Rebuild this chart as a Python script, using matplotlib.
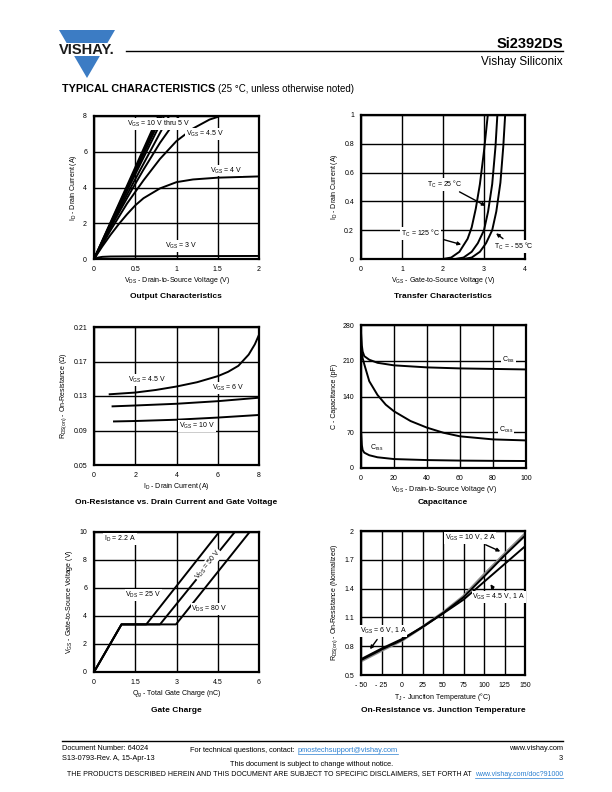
import matplotlib
matplotlib.use("Agg")
import matplotlib.pyplot as plt
from matplotlib.patches import Polygon, Rectangle

plt.rcParams['font.family'] = ['Liberation Sans', 'DejaVu Sans']
plt.rcParams['mathtext.fontset'] = 'custom'
plt.rcParams['mathtext.rm'] = 'Liberation Sans'
plt.rcParams['mathtext.it'] = 'Liberation Sans'

# ---------------- DATA ----------------
# Output characteristics (VDS in V, ID in A)
out_vds_10v = [0, 0.4, 0.78]
out_id_10v = [0, 4.1, 8.0]
out_vds_8v = [0, 0.4, 0.80]
out_id_8v = [0, 4.0, 8.0]
out_vds_7v = [0, 0.4, 0.82]
out_id_7v = [0, 3.9, 8.0]
out_vds_6v = [0, 0.4, 0.85]
out_id_6v = [0, 3.8, 8.0]
out_vds_5_5v = [0, 0.4, 0.91]
out_id_5_5v = [0, 3.6, 8.0]
out_vds_5v = [0, 0.2, 0.4, 0.6, 0.8, 1.03]
out_id_5v = [0, 1.75, 3.4, 5.0, 6.5, 8.0]
out_vds_4_5v = [0, 0.2, 0.4, 0.6, 0.8, 1.0, 1.2, 1.4, 1.5]
out_id_4_5v = [0, 1.6, 3.1, 4.4, 5.6, 6.6, 7.3, 7.8, 7.95]
out_vds_4v = [0, 0.1, 0.2, 0.3, 0.4, 0.5, 0.6, 0.8, 1.0, 1.2, 1.5, 2.0]
out_id_4v = [0, 0.7, 1.35, 1.95, 2.5, 3.0, 3.4, 3.95, 4.3, 4.45, 4.55, 4.62]
out_vds_3v = [0, 0.05, 0.1, 0.2, 0.5, 1.0, 2.0]
out_id_3v = [0, 0.08, 0.12, 0.14, 0.15, 0.16, 0.17]

# Transfer characteristics (VGS in V, ID in A)
tr_vgs_125 = [2.0, 2.2, 2.4, 2.6, 2.7, 2.8, 2.9, 3.0, 3.1]
tr_id_125 = [0, 0.01, 0.05, 0.14, 0.22, 0.35, 0.52, 0.75, 1.02]
tr_vgs_25 = [2.3, 2.5, 2.7, 2.85, 3.0, 3.1, 3.2, 3.28, 3.33]
tr_id_25 = [0, 0.01, 0.05, 0.11, 0.2, 0.33, 0.52, 0.78, 1.02]
tr_vgs_m55 = [2.5, 2.7, 2.9, 3.05, 3.2, 3.3, 3.4, 3.47, 3.52]
tr_id_m55 = [0, 0.01, 0.05, 0.11, 0.2, 0.33, 0.53, 0.78, 1.02]

# On-resistance vs drain current (ID in A, RDS(on) in ohm)
ron_id_4_5v = [0.76, 2, 3, 4, 5, 6, 6.5, 7, 7.5, 7.8, 8]
ron_r_4_5v = [0.132, 0.134, 0.137, 0.141, 0.146, 0.153, 0.158, 0.165, 0.178, 0.19, 0.201]
ron_id_6v = [0.9, 2, 4, 6, 8]
ron_r_6v = [0.118, 0.119, 0.121, 0.124, 0.128]
ron_id_10v = [0.97, 2, 4, 6, 8]
ron_r_10v = [0.1005, 0.101, 0.1025, 0.105, 0.108]

# Capacitance (VDS in V, C in pF)
cap_v_iss = [0, 0.5, 1, 2, 5, 10, 20, 40, 60, 80, 100]
cap_ciss = [265, 240, 228, 219, 212, 206, 201, 197, 195, 194, 193]
cap_v_oss = [0.5, 1, 2, 5, 10, 15, 20, 30, 40, 50, 60, 80, 100]
cap_coss = [225, 215, 203, 170, 143, 124, 111, 92, 79, 69, 62, 56, 54]
cap_v_rss = [0, 0.5, 1, 2, 5, 10, 20, 40, 60, 80, 100]
cap_crss = [72, 45, 35, 30, 25, 21, 17.5, 15.5, 14.5, 14, 13.7]

# Gate charge (Qg in nC, VGS in V)
gc_qg_25v = [0, 1.0, 1.9, 4.55]
gc_vgs_25v = [0, 3.4, 3.4, 10]
gc_qg_50v = [0, 1.0, 2.4, 5.12]
gc_vgs_50v = [0, 3.4, 3.4, 10]
gc_qg_80v = [0, 1.0, 2.98, 5.66]
gc_vgs_80v = [0, 3.4, 3.4, 10]

# On-resistance vs junction temperature (normalized)
tj_temp = [-50, -25, 0, 25, 50, 75, 100, 125, 150]
tj_r_10v = [0.655, 0.765, 0.865, 1.0, 1.145, 1.31, 1.525, 1.745, 1.95]
tj_r_6v = [0.645, 0.755, 0.86, 1.0, 1.15, 1.32, 1.545, 1.76, 1.97]
tj_r_4_5v = [0.665, 0.775, 0.875, 1.0, 1.14, 1.285, 1.47, 1.655, 1.84]

# tick labels
out_xticks = [0, 0.5, 1, 1.5, 2]
out_xticklabels = ["0", "0.5", "1", "1.5", "2"]
out_yticks = [0, 2, 4, 6, 8]
tr_xticks = [0, 1, 2, 3, 4]
tr_yticks = [0, 0.2, 0.4, 0.6, 0.8, 1.0]
tr_yticklabels = ["0", "0.2", "0.4", "0.6", "0.8", "1"]
ron_xticks = [0, 2, 4, 6, 8]
ron_yticks = [0.05, 0.09, 0.13, 0.17, 0.21]
ron_yticklabels = ["0.05", "0.09", "0.13", "0.17", "0.21"]
cap_xticks = [0, 20, 40, 60, 80, 100]
cap_yticks = [0, 70, 140, 210, 280]
gc_xticks = [0, 1.5, 3, 4.5, 6]
gc_xticklabels = ["0", "1.5", "3", "4.5", "6"]
gc_yticks = [0, 2, 4, 6, 8, 10]
tj_xticks = [-50, -25, 0, 25, 50, 75, 100, 125, 150]
tj_xticklabels = ["- 50", "- 25", "0", "25", "50", "75", "100", "125", "150"]
tj_yticks = [0.5, 0.8, 1.1, 1.4, 1.7, 2.0]
tj_yticklabels = ["0.5", "0.8", "1.1", "1.4", "1.7", "2"]

# ---------------- FIGURE ----------------
W, H = 612, 792
fig = plt.figure(figsize=(W / 100, H / 100), dpi=100)
rend = fig.canvas.get_renderer()

def px(x, y):
    return x / W, 1 - y / H

def make_ax(l, t, r, b):
    ax = fig.add_axes([l / W, 1 - b / H, (r - l) / W, (b - t) / H])
    ax.grid(True, color='black', lw=1.0)
    ax.set_axisbelow(True)
    for s in ax.spines.values():
        s.set_linewidth(1.6)
    ax.tick_params(length=0, labelsize=5, pad=5)
    return ax

TXT = dict(fontsize=5)
BOX = dict(facecolor='white', edgecolor='none', pad=0.6)
LW = 1.4
XLP = 1.5
YLP = 3

def fig_title(x, y, s):
    fig.text(*px(x, y), s, ha='center', va='center', fontsize=6, fontweight='bold')

# Chart 1: Output characteristics
ax1 = make_ax(94, 116, 259, 259)
for xs, ys in [(out_vds_10v, out_id_10v), (out_vds_8v, out_id_8v), (out_vds_7v, out_id_7v),
               (out_vds_6v, out_id_6v), (out_vds_5_5v, out_id_5_5v), (out_vds_5v, out_id_5v),
               (out_vds_4_5v, out_id_4_5v), (out_vds_4v, out_id_4v), (out_vds_3v, out_id_3v)]:
    ax1.plot(xs, ys, color='black', lw=LW)
ax1.set_xlim(0, 2); ax1.set_ylim(0, 8)
ax1.set_xticks(out_xticks, out_xticklabels); ax1.set_yticks(out_yticks)
ax1.set_xlabel(r"V$_{\mathrm{DS}}$ - Drain-to-Source Voltage (V)", fontsize=5, labelpad=XLP)
ax1.set_ylabel(r"I$_{\mathrm{D}}$ - Drain Current (A)", fontsize=5, labelpad=YLP)
ax1.text(0.78, 7.55, r"V$_{\mathrm{GS}}$ = 10 V thru 5 V", ha='center', va='center', bbox=BOX, **TXT)
ax1.text(1.35, 7.0, r"V$_{\mathrm{GS}}$ = 4.5 V", ha='center', va='center', bbox=BOX, **TXT)
ax1.text(1.6, 4.95, r"V$_{\mathrm{GS}}$ = 4 V", ha='center', va='center', bbox=BOX, **TXT)
ax1.text(1.06, 0.72, r"V$_{\mathrm{GS}}$ = 3 V", ha='center', va='center', bbox=BOX, **TXT)
fig_title(176, 296, "Output Characteristics")

# Chart 2: Transfer characteristics
ax2 = make_ax(361, 115, 525, 259)
for xs, ys in [(tr_vgs_125, tr_id_125), (tr_vgs_25, tr_id_25), (tr_vgs_m55, tr_id_m55)]:
    ax2.plot(xs, ys, color='black', lw=LW)
ax2.set_xlim(0, 4); ax2.set_ylim(0, 1)
ax2.set_xticks(tr_xticks); ax2.set_yticks(tr_yticks, tr_yticklabels)
ax2.set_xlabel(r"V$_{\mathrm{GS}}$ - Gate-to-Source Voltage (V)", fontsize=5, labelpad=XLP)
ax2.set_ylabel(r"I$_{\mathrm{D}}$ - Drain Current (A)", fontsize=5, labelpad=YLP)
AP = dict(arrowstyle='-|>', color='black', lw=1.0, mutation_scale=5)
ax2.annotate(r"T$_{\mathrm{C}}$ = 25 °C", xy=(3.1, 0.36), xytext=(2.05, 0.52),
             ha='center', va='center', arrowprops=AP, bbox=BOX, **TXT)
ax2.annotate(r"T$_{\mathrm{C}}$ = 125 °C", xy=(2.51, 0.095), xytext=(1.45, 0.18),
             ha='center', va='center', arrowprops=AP, bbox=BOX, **TXT)
ax2.annotate(r"T$_{\mathrm{C}}$ = - 55 °C", xy=(3.24, 0.19), xytext=(3.72, 0.085),
             ha='center', va='center', arrowprops=AP, bbox=BOX, **TXT)
fig_title(443, 296, "Transfer Characteristics")

# Chart 3: On-resistance vs drain current
ax3 = make_ax(94, 327, 259, 465)
for xs, ys in [(ron_id_4_5v, ron_r_4_5v), (ron_id_6v, ron_r_6v), (ron_id_10v, ron_r_10v)]:
    ax3.plot(xs, ys, color='black', lw=LW)
ax3.set_xlim(0, 8); ax3.set_ylim(0.05, 0.21)
ax3.set_xticks(ron_xticks); ax3.set_yticks(ron_yticks, ron_yticklabels)
ax3.set_xlabel(r"I$_{\mathrm{D}}$ - Drain Current (A)", fontsize=5, labelpad=XLP)
ax3.set_ylabel(r"R$_{\mathrm{DS(on)}}$ - On-Resistance (Ω)", fontsize=5, labelpad=YLP)
ax3.text(2.56, 0.149, r"V$_{\mathrm{GS}}$ = 4.5 V", ha='center', va='center', bbox=BOX, **TXT)
ax3.text(6.5, 0.1395, r"V$_{\mathrm{GS}}$ = 6 V", ha='center', va='center', bbox=BOX, **TXT)
ax3.text(5.0, 0.0955, r"V$_{\mathrm{GS}}$ = 10 V", ha='center', va='center', bbox=BOX, **TXT)
fig_title(176, 503, "On-Resistance vs. Drain Current and Gate Voltage")

# Chart 4: Capacitance
ax4 = make_ax(361, 325, 526, 468)
for xs, ys in [(cap_v_iss, cap_ciss), (cap_v_oss, cap_coss), (cap_v_rss, cap_crss)]:
    ax4.plot(xs, ys, color='black', lw=LW)
ax4.set_xlim(0, 100); ax4.set_ylim(0, 280)
ax4.set_xticks(cap_xticks); ax4.set_yticks(cap_yticks)
ax4.set_xlabel(r"V$_{\mathrm{DS}}$ - Drain-to-Source Voltage (V)", fontsize=5, labelpad=XLP)
ax4.set_ylabel("C - Capacitance (pF)", fontsize=5, labelpad=YLP)
ax4.text(89.5, 211, r"C$_{\mathrm{iss}}$", ha='center', va='center', bbox=BOX, **TXT)
ax4.text(88, 75, r"C$_{\mathrm{oss}}$", ha='center', va='center', bbox=BOX, **TXT)
ax4.text(9.5, 40, r"C$_{\mathrm{rss}}$", ha='center', va='center', bbox=BOX, **TXT)
fig_title(443, 503, "Capacitance")

# Chart 5: Gate charge
ax5 = make_ax(94, 532, 259, 672)
for xs, ys in [(gc_qg_25v, gc_vgs_25v), (gc_qg_50v, gc_vgs_50v), (gc_qg_80v, gc_vgs_80v)]:
    ax5.plot(xs, ys, color='black', lw=LW)
ax5.set_xlim(0, 6); ax5.set_ylim(0, 10)
ax5.set_xticks(gc_xticks, gc_xticklabels); ax5.set_yticks(gc_yticks)
ax5.set_xlabel(r"Q$_{\mathrm{g}}$ - Total Gate Charge (nC)", fontsize=5, labelpad=XLP)
ax5.set_ylabel(r"V$_{\mathrm{GS}}$ - Gate-to-Source Voltage (V)", fontsize=5, labelpad=YLP)
ax5.text(0.95, 9.5, r"I$_{\mathrm{D}}$ = 2.2 A", ha='center', va='center', bbox=BOX, **TXT)
ax5.text(1.8, 5.5, r"V$_{\mathrm{DS}}$ = 25 V", ha='center', va='center', bbox=BOX, **TXT)
ax5.text(4.2, 4.5, r"V$_{\mathrm{DS}}$ = 80 V", ha='center', va='center', bbox=BOX, **TXT)
ax5.text(4.15, 7.65, r"V$_{\mathrm{DS}}$ = 50 V", ha='center', va='center', rotation=51,
         bbox=dict(facecolor='white', edgecolor='none', pad=0.3), **TXT)
fig_title(176, 711, "Gate Charge")

# Chart 6: On-resistance vs junction temperature
ax6 = make_ax(361, 531, 525, 675)
ax6.plot(tj_temp, tj_r_6v, color='#8c8c8c', lw=LW + 0.6)
ax6.plot(tj_temp, tj_r_10v, color='black', lw=LW)
ax6.plot(tj_temp, tj_r_4_5v, color='black', lw=LW)
ax6.set_xlim(-50, 150); ax6.set_ylim(0.5, 2.0)
ax6.set_xticks(tj_xticks, tj_xticklabels); ax6.set_yticks(tj_yticks, tj_yticklabels)
ax6.set_xlabel(r"T$_{\mathrm{J}}$ - Junction Temperature (°C)", fontsize=5, labelpad=XLP)
ax6.set_ylabel(r"R$_{\mathrm{DS(on)}}$ - On-Resistance (Normalized)", fontsize=5, labelpad=YLP)
ax6.annotate(r"V$_{\mathrm{GS}}$ = 10 V, 2 A", xy=(123, 1.775), xytext=(83, 1.93),
             ha='center', va='center', arrowprops=AP, bbox=BOX, **TXT)
ax6.annotate(r"V$_{\mathrm{GS}}$ = 4.5 V, 1 A", xy=(106, 1.47), xytext=(118, 1.315),
             ha='center', va='center', arrowprops=AP, bbox=BOX, **TXT)
ax6.annotate(r"V$_{\mathrm{GS}}$ = 6 V, 1 A", xy=(-41, 0.745), xytext=(-23, 0.955),
             ha='center', va='center', arrowprops=AP, bbox=BOX, **TXT)
fig_title(443, 711, "On-Resistance vs. Junction Temperature")

# ---------------- HEADER ----------------
blue = '#3c7cc4'
fig.patches.append(Polygon([px(59, 30), px(115, 30), px(87, 78)], closed=True,
                           transform=fig.transFigure, facecolor=blue, edgecolor='none'))
fig.patches.append(Rectangle(px(55, 56), 65 / W, 13 / H, transform=fig.transFigure,
                             facecolor='white', edgecolor='none'))
fig.text(*px(87, 49.5), "VISHAY.", ha='center', va='center', fontsize=10.5, fontweight='bold',
         color='#1a1a1a')
fig.add_artist(plt.Line2D([126 / W, 563 / W], [1 - 51 / H, 1 - 51 / H], color='black', lw=1.0))
fig.text(*px(563, 44), "Si2392DS", ha='right', va='center', fontsize=10.5, fontweight='bold')
fig.text(*px(563, 62), "Vishay Siliconix", ha='right', va='center', fontsize=8.5)
t_tc = fig.text(*px(62, 89), "TYPICAL CHARACTERISTICS", ha='left', va='center', fontsize=7.8,
                fontweight='heavy')
xr = t_tc.get_window_extent(renderer=rend).x1
fig.text((xr + 3) / W, 1 - 89 / H, "(25 °C, unless otherwise noted)", ha='left', va='center',
         fontsize=7)

# ---------------- FOOTER ----------------
fig.add_artist(plt.Line2D([62 / W, 563 / W], [1 - 741 / H, 1 - 741 / H], color='black', lw=1.0))
fig.text(*px(62, 748), "Document Number: 64024", ha='left', va='center', fontsize=5.3)
fig.text(*px(62, 758), "S13-0793-Rev. A, 15-Apr-13", ha='left', va='center', fontsize=5.3)
t_q = fig.text(*px(190, 750), "For technical questions, contact: ", ha='left', va='center',
               fontsize=5.3)
xr = t_q.get_window_extent(renderer=rend).x1
link1 = fig.text((xr + 1) / W, 1 - 750 / H, "pmostechsupport@vishay.com", ha='left',
                 va='center', fontsize=5.3, color='#2a7fd0')
fig.text(*px(563, 748), "www.vishay.com", ha='right', va='center', fontsize=5.3)
fig.text(*px(563, 758), "3", ha='right', va='center', fontsize=5.3)
fig.text(*px(312, 765), "This document is subject to change without notice.", ha='center',
         va='center', fontsize=5.3)

# disclaimer line: scale font so it spans the page text width
disc = "THE PRODUCTS DESCRIBED HEREIN AND THIS DOCUMENT ARE SUBJECT TO SPECIFIC DISCLAIMERS, SET FORTH AT"
lnk = "www.vishay.com/doc?91000"
p1 = fig.text(0, 0, disc, fontsize=5)
p2 = fig.text(0, 0, lnk, fontsize=5)
wsum = p1.get_window_extent(renderer=rend).width + p2.get_window_extent(renderer=rend).width
p1.remove(); p2.remove()
fs = 5 * (563 - 62 - 3) / wsum
link2 = fig.text(*px(563, 774), lnk, ha='right', va='center', fontsize=fs, color='#2a7fd0')
x0 = link2.get_window_extent(renderer=rend).x0
fig.text((x0 - 3) / W, 1 - 774 / H, disc, ha='right', va='center', fontsize=fs)

for lk in (link1, link2):
    bb = lk.get_window_extent(renderer=rend).transformed(fig.transFigure.inverted())
    fig.add_artist(plt.Line2D([bb.x0, bb.x1], [bb.y0, bb.y0], color='#2a7fd0', lw=0.5))

fig.savefig("out.png", dpi=100)
